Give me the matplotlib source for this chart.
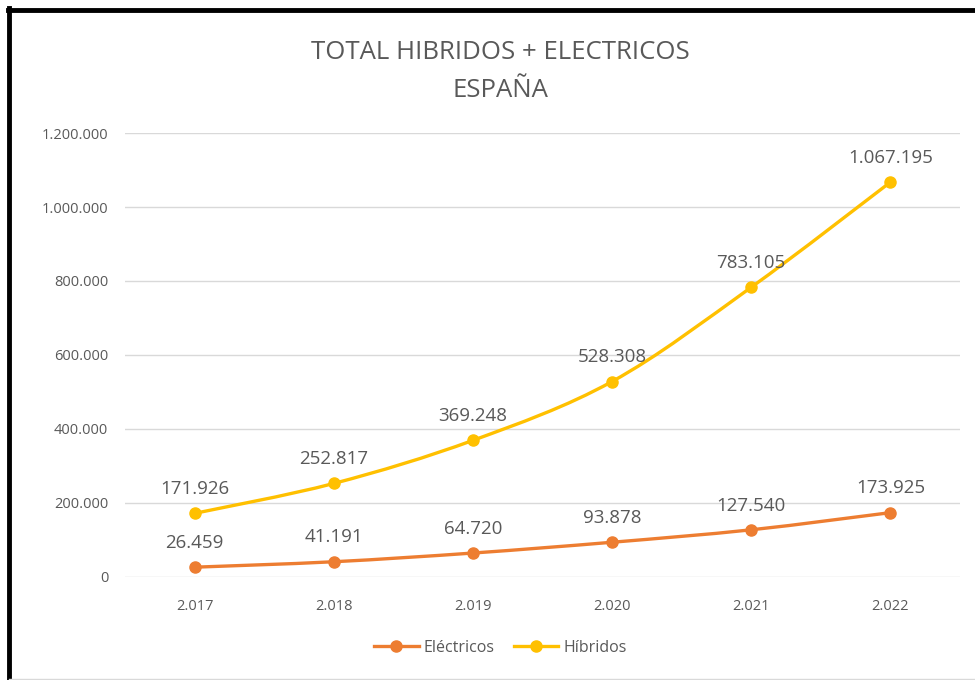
import matplotlib
matplotlib.use("Agg")
import matplotlib.pyplot as plt
from matplotlib.lines import Line2D
from matplotlib.path import Path
from matplotlib.patches import PathPatch
from matplotlib.ticker import FuncFormatter

plt.rcParams["font.family"] = ["Open Sans", "DejaVu Sans"]

years = ["2.017", "2.018", "2.019", "2.020", "2.021", "2.022"]
electricos = [26459, 41191, 64720, 93878, 127540, 173925]
hibridos = [171926, 252817, 369248, 528308, 783105, 1067195]

ORANGE = "#ED7D31"
YELLOW = "#FFC000"
GRAY = "#595959"


def thousands(v):
    return f"{int(round(v)):,}".replace(",", ".")


def smooth_path(xs, ys):
    # Excel-like smoothed line: cubic bezier through the points
    pts = list(zip(xs, ys))
    verts = [pts[0]]
    codes = [Path.MOVETO]
    n = len(pts)
    for i in range(n - 1):
        p0 = pts[max(i - 1, 0)]
        p1 = pts[i]
        p2 = pts[i + 1]
        p3 = pts[min(i + 2, n - 1)]
        c1 = (p1[0] + (p2[0] - p0[0]) / 6, p1[1] + (p2[1] - p0[1]) / 6)
        c2 = (p2[0] - (p3[0] - p1[0]) / 6, p2[1] - (p3[1] - p1[1]) / 6)
        verts += [c1, c2, p2]
        codes += [Path.CURVE4] * 3
    return Path(verts, codes)


fig = plt.figure(figsize=(9.75, 6.8), dpi=100)
ax = fig.add_axes([0.1282, 0.1515, 0.8564, 0.6529])

x = list(range(len(years)))
for vals, color in [(electricos, ORANGE), (hibridos, YELLOW)]:
    ax.add_patch(PathPatch(smooth_path(x, vals), fill=False, edgecolor=color,
                           linewidth=2.4, capstyle="round", zorder=3))
    ax.plot(x, vals, linestyle="none", marker="o", markersize=8,
            color=color, zorder=4)
    for xi, v in zip(x, vals):
        ax.annotate(thousands(v), (xi, v), xytext=(0, 11), textcoords="offset points",
                    ha="center", va="bottom", fontsize=13.5, color=GRAY)

ax.set_xlim(-0.5, len(years) - 0.5)
ax.set_ylim(0, 1200000)
ax.set_yticks(range(0, 1200001, 200000))
ax.yaxis.set_major_formatter(FuncFormatter(lambda v, p: thousands(v)))
ax.set_xticks(x)
ax.set_xticklabels(years)
ax.tick_params(length=0, labelsize=10.5, colors=GRAY)
ax.tick_params(axis="x", pad=16)
ax.tick_params(axis="y", pad=12)
ax.grid(axis="y", color="#D9D9D9", linewidth=1)
ax.set_axisbelow(True)
for s in ax.spines.values():
    s.set_visible(False)

fig.text(0.513, 0.923, "TOTAL HIBRIDOS + ELECTRICOS", ha="center", va="center",
         fontsize=18.5, color=GRAY)
fig.text(0.513, 0.867, "ESPAÑA", ha="center", va="center", fontsize=18.5, color=GRAY)

handles = [
    Line2D([], [], color=ORANGE, linewidth=2.4, marker="o", markersize=8),
    Line2D([], [], color=YELLOW, linewidth=2.4, marker="o", markersize=8),
]
fig.legend(handles, ["Eléctricos", "Híbridos"], loc="center", bbox_to_anchor=(0.513, 0.047),
           ncol=2, frameon=False, fontsize=11.5, labelcolor=GRAY,
           handlelength=2.8, handletextpad=0.3, columnspacing=1.2)

# frame of the original screenshot
fig.add_artist(Line2D([8 / 975, 1], [1 - 10 / 680, 1 - 10 / 680], color="black",
                      linewidth=3.5, transform=fig.transFigure))
fig.add_artist(Line2D([9 / 975, 9 / 975], [0, 1 - 8 / 680], color="black",
                      linewidth=3.5, transform=fig.transFigure))
fig.add_artist(Line2D([9 / 975, 1], [1.5 / 680, 1.5 / 680], color="#D9D9D9",
                      linewidth=1, transform=fig.transFigure))

fig.savefig("out.png", dpi=100)
